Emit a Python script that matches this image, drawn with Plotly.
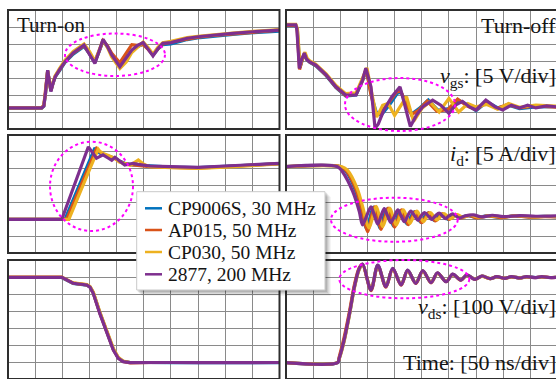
import plotly.graph_objects as go

# ---------------------------------------------------------------- data
PROBES = ["CP9006S, 30 MHz", "AP015, 50 MHz", "CP030, 50 MHz", "2877, 200 MHz"]

# Turn-on gate-source voltage [V] vs time [ns]
T_VGS_ON = [0, 62, 66, 69, 73, 76, 79, 83, 87, 95, 105, 120, 133, 140, 150, 160, 168, 175, 183, 191,
            206, 218, 228, 238, 249, 258, 267, 276, 285, 300, 330, 354, 380, 414, 451, 475, 500]
VGS_ON_CP9006S = [-3.9, -3.9, -3.3, 0.3, 7.1, 4.1, 1.2, 3.5, 5.3, 7.2, 9.6, 12.0, 13.6, 14.3, 12.1, 9.6, 12.8, 16.0, 14.2, 12.0,
                  8.6, 10.9, 12.8, 14.2, 15.0, 13.6, 11.8, 13.5, 14.8, 15.0, 16.3, 16.9, 17.2, 17.8, 18.3, 18.5, 18.8]
VGS_ON_AP015 = [-3.8, -3.8, -3.1, 0.6, 7.2, 4.2, 1.3, 3.6, 5.5, 7.4, 9.8, 12.3, 13.8, 14.5, 12.2, 9.8, 13.0, 16.0, 14.5, 12.3,
                9.5, 12.5, 14.8, 14.6, 14.8, 13.4, 11.8, 13.6, 15.0, 15.6, 16.5, 17.1, 17.5, 18.0, 18.6, 18.8, 19.1]
VGS_ON_CP030 = [-3.7, -3.7, -3.0, 0.4, 7.0, 4.3, 1.4, 3.8, 5.7, 7.8, 10.2, 12.8, 14.3, 15.0, 12.8, 10.0, 13.2, 16.2, 14.0, 11.2,
                7.8, 9.8, 12.5, 14.0, 15.6, 14.0, 12.0, 14.0, 15.4, 15.8, 16.9, 17.3, 17.6, 18.2, 18.7, 18.9, 19.2]
VGS_ON_2877 = [-3.8, -3.8, -3.2, 0.5, 7.3, 4.0, 1.0, 3.5, 5.4, 7.5, 9.8, 12.4, 13.8, 14.7, 12.0, 9.3, 13.0, 16.4, 14.3, 11.8,
               8.3, 10.8, 13.2, 14.5, 15.4, 13.5, 11.5, 13.6, 15.2, 15.4, 16.7, 17.2, 17.5, 18.1, 18.6, 18.8, 19.1]

# Turn-off gate-source voltage [V]
T_VGS_OFF_CP9006S = [0, 18, 21, 25.5, 30, 34.5, 39, 44, 55, 74, 92, 110, 129, 141, 148, 157, 166, 175, 190, 205,
                     212, 222, 232, 245, 262, 280, 300, 318, 335, 350, 370, 390, 410, 430, 460, 500]
VGS_OFF_CP9006S = [20.4, 20.4, 19.0, 8.0, 10.3, 12.0, 10.3, 9.6, 8.6, 5.7, 2.2, -0.3, 0.0, 4.2, 7.5, 0.0, -5.0, -6.0, -3.0, 0.5,
                   0.8, -3.0, -5.5, -4.0, -1.5, -4.5, -4.0, -1.5, -3.0, -4.6, -2.0, -3.8, -3.0, -4.0, -3.5, -3.4]
T_VGS_OFF_AP015 = [0, 18, 20.5, 25, 29.5, 34, 38.5, 43.5, 55, 74, 92, 110, 129, 141, 147.5, 156, 165, 173, 188, 203,
                   211, 221, 231, 244, 260, 278, 298, 316, 333, 350, 368, 388, 408, 430, 460, 500]
VGS_OFF_AP015 = [20.5, 20.5, 19.2, 7.5, 10.2, 12.1, 10.4, 9.7, 8.7, 5.8, 2.3, -0.2, 0.2, 4.3, 7.7, 0.5, -5.5, -5.5, -2.5, 0.8,
                 1.2, -2.5, -5.8, -4.5, -1.8, -4.8, -4.3, -1.2, -3.2, -4.4, -2.2, -4.0, -2.8, -3.8, -3.2, -3.6]
T_VGS_OFF_CP030 = [0, 18, 21, 26, 30, 35, 39, 44, 55, 74, 92, 110, 129, 141, 149, 158, 167, 178, 188, 200,
                   212, 222, 235, 250, 265, 282, 300, 318, 335, 350, 370, 390, 410, 430, 460, 500]
VGS_OFF_CP030 = [20.8, 20.8, 19.5, 8.5, 10.8, 12.6, 10.8, 10.0, 9.0, 6.2, 2.8, 0.4, 0.6, 4.8, 8.0, 0.5, -6.5, -3.0, -2.5, -6.0,
                 -3.0, -0.5, -7.8, -4.0, -2.0, -5.0, -1.0, -5.0, -2.5, -3.5, -2.8, -4.2, -2.5, -3.6, -3.0, -3.3]
T_VGS_OFF_2877 = [0, 18, 20, 24.5, 29, 33.7, 38, 43, 55, 74, 92, 110, 129, 141, 147, 156.5, 164, 170, 180, 195,
                  210, 220, 229, 240, 252, 270, 285, 300, 312, 325, 338, 350, 368, 385, 399, 415, 430, 445, 460, 480, 500]
VGS_OFF_2877 = [20.6, 20.6, 19.5, 7.8, 10.5, 12.3, 10.5, 9.8, 8.8, 5.9, 2.4, 0.0, 0.0, 4.4, 7.9, 2.4, -9.8, -8.5, -4.5, -0.5,
                2.4, -3.5, -9.3, -6.0, -3.4, -1.5, -3.0, -5.4, -3.0, -1.9, -3.5, -4.4, -1.5, -3.5, -4.4, -3.0, -3.8, -3.0, -3.8, -3.2, -3.5]

# Turn-on drain current [A]
T_ID_ON = [0, 99, 105, 108, 112, 148, 155, 160, 163, 166, 169, 175, 185, 191, 197, 205, 215, 225, 230, 240,
           250, 261, 300, 350, 400, 450, 500]
ID_ON_CP9006S = [0, 0, 0, 1.2, 2.7, 16.6, 19.3, 21.2, 20.4, 19.9, 19.6, 19.2, 18.6, 18.3, 18.1, 17.3, 16.6, 16.3, 16.1, 16.1,
                 16.0, 15.7, 15.5, 15.3, 15.7, 16.2, 16.5]
ID_ON_AP015 = [0, 0, 0, 0, 1.5, 15.3, 17.9, 19.9, 21.0, 20.5, 20.0, 19.4, 18.8, 18.4, 18.0, 17.2, 16.5, 16.2, 16.1, 16.0,
               15.9, 15.6, 15.4, 15.2, 15.6, 16.1, 16.5]
ID_ON_CP030 = [0, 0, 0, 0, 0, 13.9, 16.6, 18.5, 19.6, 20.8, 20.2, 19.5, 18.9, 18.5, 18.1, 17.0, 16.4, 16.0, 16.5, 17.6,
               16.3, 15.6, 15.3, 15.1, 15.5, 16.0, 16.4]
ID_ON_2877 = [0, 0, 2.6, 3.9, 5.7, 21.5, 19.9, 18.8, 18.1, 18.35, 18.6, 19.1, 18.1, 17.5, 18.4, 17.4, 16.1, 16.4, 16.6, 16.3,
              16.0, 15.8, 15.6, 15.4, 15.8, 16.3, 16.6]

# Turn-off drain current [A]
T_ID_OFF_CP9006S = [0, 100, 110, 128, 139, 145, 149, 155, 161, 167, 173, 180, 186, 192, 198, 205, 211, 217, 223, 230,
                    236, 242, 248, 255, 261, 267, 273, 280, 286, 292, 298, 305, 311, 320, 335, 350, 370, 395, 420, 450, 475, 500]
ID_OFF_CP9006S = [15.6, 15.6, 14.3, 8.5, 2.5, -1.5, -3.0, 0.8, 3.6, 0.8, -2.6, 0.8, 3.1, 0.8, -2.0, 0.8, 2.6, 0.8, -1.4, 0.8,
                  2.2, 0.8, -0.9, 0.8, 1.8, 0.8, -0.4, 0.8, 1.5, 0.8, 0.0, 0.8, 1.3, 0.6, 1.1, 0.5, 1.0, 0.6, 1.0, 0.7, 0.9, 0.8]
T_ID_OFF_AP015 = [0, 101, 111, 129, 140, 146, 150.5, 157, 163, 169, 175, 182, 188, 194, 200, 207, 213, 219, 225, 232,
                  238, 244, 250, 257, 263, 269, 275, 282, 288, 294, 300, 307, 313, 322, 337, 352, 372, 397, 422, 452, 477, 500]
ID_OFF_AP015 = [15.6, 15.6, 14.4, 8.8, 2.8, -1.5, -3.7, 0.6, 3.7, 0.6, -3.0, 0.6, 3.3, 0.6, -2.3, 0.6, 2.8, 0.6, -1.6, 0.6,
                2.3, 0.6, -1.0, 0.6, 2.0, 0.6, -0.5, 0.6, 1.7, 0.6, 0.0, 0.6, 1.3, 0.4, 1.1, 0.4, 1.0, 0.5, 1.0, 0.6, 0.8, 0.7]
T_ID_OFF_CP030 = [0, 103, 113, 131, 142, 148, 153, 160, 166, 172, 178, 185, 191, 197, 203, 210, 216, 222, 228, 235,
                  241, 247, 253, 260, 266, 272, 278, 285, 291, 297, 303, 310, 316, 325, 340, 355, 375, 400, 425, 455, 480, 500]
ID_OFF_CP030 = [15.6, 15.6, 14.6, 9.2, 3.2, -0.8, -2.6, 0.9, 3.8, 0.9, -2.2, 0.9, 3.3, 0.9, -1.7, 0.9, 2.8, 0.9, -1.2, 0.9,
                2.4, 0.9, -0.7, 0.9, 2.0, 0.9, -0.2, 0.9, 1.7, 0.9, 0.2, 0.9, 1.4, 0.6, 1.2, 0.6, 1.1, 0.7, 1.1, 0.7, 0.9, 0.8]
T_ID_OFF_2877 = [0, 95, 104, 123, 135, 141, 148.5, 156.5, 163, 169, 175, 181, 187, 193, 200, 206, 212, 218, 224, 230,
                 237, 243, 249, 255, 262, 268, 275, 282, 288, 294, 300, 307, 313, 319, 330, 345, 360, 380, 400, 430, 460, 500]
ID_OFF_2877 = [15.6, 15.6, 14.1, 8.2, 2.3, -1.7, 1.0, 3.7, 1.0, -1.4, 1.0, 3.2, 1.0, -1.0, 1.0, 2.8, 1.0, -0.7, 1.0, 2.4,
               1.0, -0.3, 1.0, 2.0, 1.0, 0.0, 1.0, 1.8, 1.0, 0.2, 1.0, 1.6, 1.0, 0.4, 1.0, 1.3, 0.7, 1.2, 0.8, 1.1, 0.9, 1.0]

# Turn-on drain-source voltage [V]
T_VDS_ON = [0, 99, 120, 145, 151, 157, 169, 182, 194, 203, 212, 225, 240, 260, 300, 350, 400, 450, 500]
VDS_ON_CP9006S = [497, 497, 462, 452, 442, 408, 291, 174, 75, 25, 4, -3, -2, -3, -4, -3, -3, -3, -4]
VDS_ON_AP015 = [499, 499, 464, 454, 441, 406, 289, 172, 73, 24, 3, -5, -6, -3, -3, -4, -4, -3, -3]
VDS_ON_CP030 = [498, 498, 465, 455, 445, 412, 296, 179, 80, 28, 6, -3, -3, -2, -3, -3, -2, -3, -3]
VDS_ON_2877 = [498, 498, 463, 453, 440, 404, 286, 169, 70, 22, 2, -4, -3, -4, -3, -4, -3, -4, -3]

# Turn-off drain-source voltage [V]
T_VDS_OFF = [0, 95, 98, 107, 117, 126, 135, 141, 156.5, 169, 184, 196.5, 212, 224, 239, 252, 267, 279, 295, 307,
             322, 333, 348, 361, 376, 388, 403, 415, 431, 443, 459, 471, 486, 500]
VDS_OFF_CP9006S = [-4, -4, 20, 125, 282, 440, 548, 575, 428, 568, 446, 549, 456, 539, 466, 535, 469, 523, 474, 515,
                   483, 511, 487, 505, 491, 501, 493, 501, 495, 501, 497, 500, 497, 499]
VDS_OFF_AP015 = [-4, -3, 30, 145, 300, 455, 556, 574, 420, 566, 440, 548, 452, 538, 462, 535, 466, 523, 472, 516,
                 481, 511, 486, 505, 490, 502, 492, 501, 494, 501, 496, 501, 497, 498]
VDS_OFF_CP030 = [-3, -3, 18, 120, 278, 436, 545, 572, 430, 566, 448, 547, 458, 538, 467, 534, 470, 522, 475, 514,
                 484, 510, 488, 504, 491, 500, 493, 500, 495, 500, 497, 500, 497, 499]
VDS_OFF_2877 = [-4, -4, 22, 129, 286, 443, 551, 576, 423, 570, 443, 551, 453, 541, 463, 537, 467, 525, 472, 517,
                482, 512, 486, 506, 490, 502, 492, 502, 494, 502, 496, 502, 496, 498]

# ---------------------------------------------------------------- styling
W, H = 556, 379
COLORS = ["#0072BD", "#D95319", "#EDB120", "#7E2F8E"]
SERIF = "Liberation Serif"
TEXT = "#141414"
GRID = "#8a8a8a"
FRAME = "#2e2e2e"

COL_PX = [(8, 279.5), (286, 557.5)]          # left/right panel edges in pixels
ROW_PX = [(10, 129), (135, 253), (260, 379)]  # top/bottom panel edges in pixels
Y_RANGES = [(-10, 25, 5), (-10, 25, 5), (-100, 600, 100)]


def px(x):
    return x / W


def py(y):
    return 1 - y / H


panels = [
    # (row, col, [(t, values) per probe], spline)
    (0, 0, [(T_VGS_ON, VGS_ON_CP9006S), (T_VGS_ON, VGS_ON_AP015), (T_VGS_ON, VGS_ON_CP030), (T_VGS_ON, VGS_ON_2877)], False),
    (0, 1, [(T_VGS_OFF_CP9006S, VGS_OFF_CP9006S), (T_VGS_OFF_AP015, VGS_OFF_AP015),
            (T_VGS_OFF_CP030, VGS_OFF_CP030), (T_VGS_OFF_2877, VGS_OFF_2877)], False),
    (1, 0, [(T_ID_ON, ID_ON_CP9006S), (T_ID_ON, ID_ON_AP015), (T_ID_ON, ID_ON_CP030), (T_ID_ON, ID_ON_2877)], False),
    (1, 1, [(T_ID_OFF_CP9006S, ID_OFF_CP9006S), (T_ID_OFF_AP015, ID_OFF_AP015),
            (T_ID_OFF_CP030, ID_OFF_CP030), (T_ID_OFF_2877, ID_OFF_2877)], True),
    (2, 0, [(T_VDS_ON, VDS_ON_CP9006S), (T_VDS_ON, VDS_ON_AP015), (T_VDS_ON, VDS_ON_CP030), (T_VDS_ON, VDS_ON_2877)], False),
    (2, 1, [(T_VDS_OFF, VDS_OFF_CP9006S), (T_VDS_OFF, VDS_OFF_AP015), (T_VDS_OFF, VDS_OFF_CP030), (T_VDS_OFF, VDS_OFF_2877)], True),
]

fig = go.Figure()
layout_axes = {}
shapes = []

for idx, (row, col, series, smooth) in enumerate(panels):
    n = idx + 1
    xa = "x" if n == 1 else f"x{n}"
    ya = "y" if n == 1 else f"y{n}"
    x0, x1 = COL_PX[col]
    y0, y1 = ROW_PX[row]
    # the right column runs past the page edge: keep the 50 ns/div scale
    x_dom_end = min(x1, W)
    t_end = 500 * (x_dom_end - x0) / (x1 - x0)
    ylo, yhi, ydt = Y_RANGES[row]

    layout_axes["xaxis" if n == 1 else f"xaxis{n}"] = dict(
        domain=[px(x0), px(x_dom_end)], range=[0, t_end], anchor=ya,
        tick0=0, dtick=50, showticklabels=False, ticks="", showgrid=True,
        gridcolor=GRID, gridwidth=1, zeroline=False, showline=False, fixedrange=True)
    layout_axes["yaxis" if n == 1 else f"yaxis{n}"] = dict(
        domain=[py(y1), py(y0)], range=[ylo, yhi], anchor=xa,
        tick0=ylo, dtick=ydt, showticklabels=False, ticks="", showgrid=True,
        gridcolor=GRID, gridwidth=1, zeroline=False, showline=False, fixedrange=True)

    for k, (t, v) in enumerate(series):
        fig.add_trace(go.Scatter(
            x=t, y=v, mode="lines", xaxis=xa, yaxis=ya,
            name=PROBES[k], legendgroup=PROBES[k], showlegend=False,
            line=dict(color=COLORS[k], width=3.2,
                      shape="spline" if smooth else "linear", smoothing=0.9),
        ))

    # ground-level marker on the left column
    if col == 0:
        fig.add_trace(go.Scatter(
            x=[-9.5], y=[0], mode="markers", xaxis=xa, yaxis=ya, showlegend=False,
            cliponaxis=False, hoverinfo="skip",
            marker=dict(symbol="triangle-right", size=11, color="#19b419", line=dict(width=0))))

    # panel frame
    shapes.append(dict(type="rect", xref="paper", yref="paper", layer="above",
                       x0=px(x0), x1=px(x1), y0=py(y1), y1=py(y0),
                       line=dict(color=FRAME, width=2), fillcolor="rgba(0,0,0,0)"))

# highlighted regions (pixel boxes)
ELLIPSES = [(65, 165, 33.5, 76), (345, 455, 78, 131), (50, 133, 141.7, 231),
            (331, 457.7, 197.7, 241.7), (339.3, 469.3, 260, 298.3)]
for ex0, ex1, ey0, ey1 in ELLIPSES:
    shapes.append(dict(type="circle", xref="paper", yref="paper", layer="above",
                       x0=px(ex0), x1=px(ex1), y0=py(ey1), y1=py(ey0),
                       line=dict(color="#ff00ff", width=2, dash="dot")))

# legend box: soft shadow, white panel, short line samples and labels
LEG_X0, LEG_X1, LEG_Y0, LEG_Y1 = 136.7, 325, 191.7, 290
LEG_ROWS = [208.3, 230.0, 252.0, 274.3]
for off, alpha in [(6, 0.04), (5, 0.05), (4, 0.06), (3, 0.08), (2, 0.1)]:
    shapes.append(dict(type="rect", xref="paper", yref="paper", layer="above",
                       x0=px(LEG_X0 + off - 1), x1=px(LEG_X1 + off), y0=py(LEG_Y1 + off), y1=py(LEG_Y0 + off - 1),
                       line=dict(width=0), fillcolor=f"rgba(0,0,0,{alpha})"))
shapes.append(dict(type="rect", xref="paper", yref="paper", layer="above",
                   x0=px(LEG_X0), x1=px(LEG_X1), y0=py(LEG_Y1), y1=py(LEG_Y0),
                   line=dict(color="#c9c9c9", width=1), fillcolor="white"))
for k, yk in enumerate(LEG_ROWS):
    shapes.append(dict(type="line", xref="paper", yref="paper", layer="above",
                       x0=px(145), x1=px(162), y0=py(yk), y1=py(yk),
                       line=dict(color=COLORS[k], width=2.5)))

annotations = [
    dict(text="Turn-on", x=px(15), y=py(25), xanchor="left", yanchor="middle", font=dict(size=21)),
    dict(text="Turn-off", x=px(558), y=py(25), xanchor="right", yanchor="middle", font=dict(size=22)),
    dict(text="<i>v</i><sub>gs</sub>: [5 V/div]", x=px(558), y=py(77), xanchor="right", yanchor="middle", font=dict(size=22)),
    dict(text="<i>i</i><sub>d</sub>: [5 A/div]", x=px(558), y=py(155), xanchor="right", yanchor="middle", font=dict(size=22)),
    dict(text="<i>v</i><sub>ds</sub>: [100 V/div]", x=px(558), y=py(308), xanchor="right", yanchor="middle", font=dict(size=22)),
    dict(text="Time: [50 ns/div]", x=px(558), y=py(362), xanchor="right", yanchor="middle", font=dict(size=22)),
]
for k, yk in enumerate(LEG_ROWS):
    annotations.append(dict(text=PROBES[k], x=px(166), y=py(yk), xanchor="left", yanchor="middle",
                            font=dict(size=19.5)))
for a in annotations:
    a.update(xref="paper", yref="paper", showarrow=False)
    a["font"].update(family=SERIF, color=TEXT)

fig.update_layout(
    width=W, height=H, margin=dict(l=0, r=0, t=0, b=0),
    paper_bgcolor="white", plot_bgcolor="white",
    showlegend=False,
    shapes=shapes, annotations=annotations,
    **layout_axes,
)

fig.write_html("out.html")
